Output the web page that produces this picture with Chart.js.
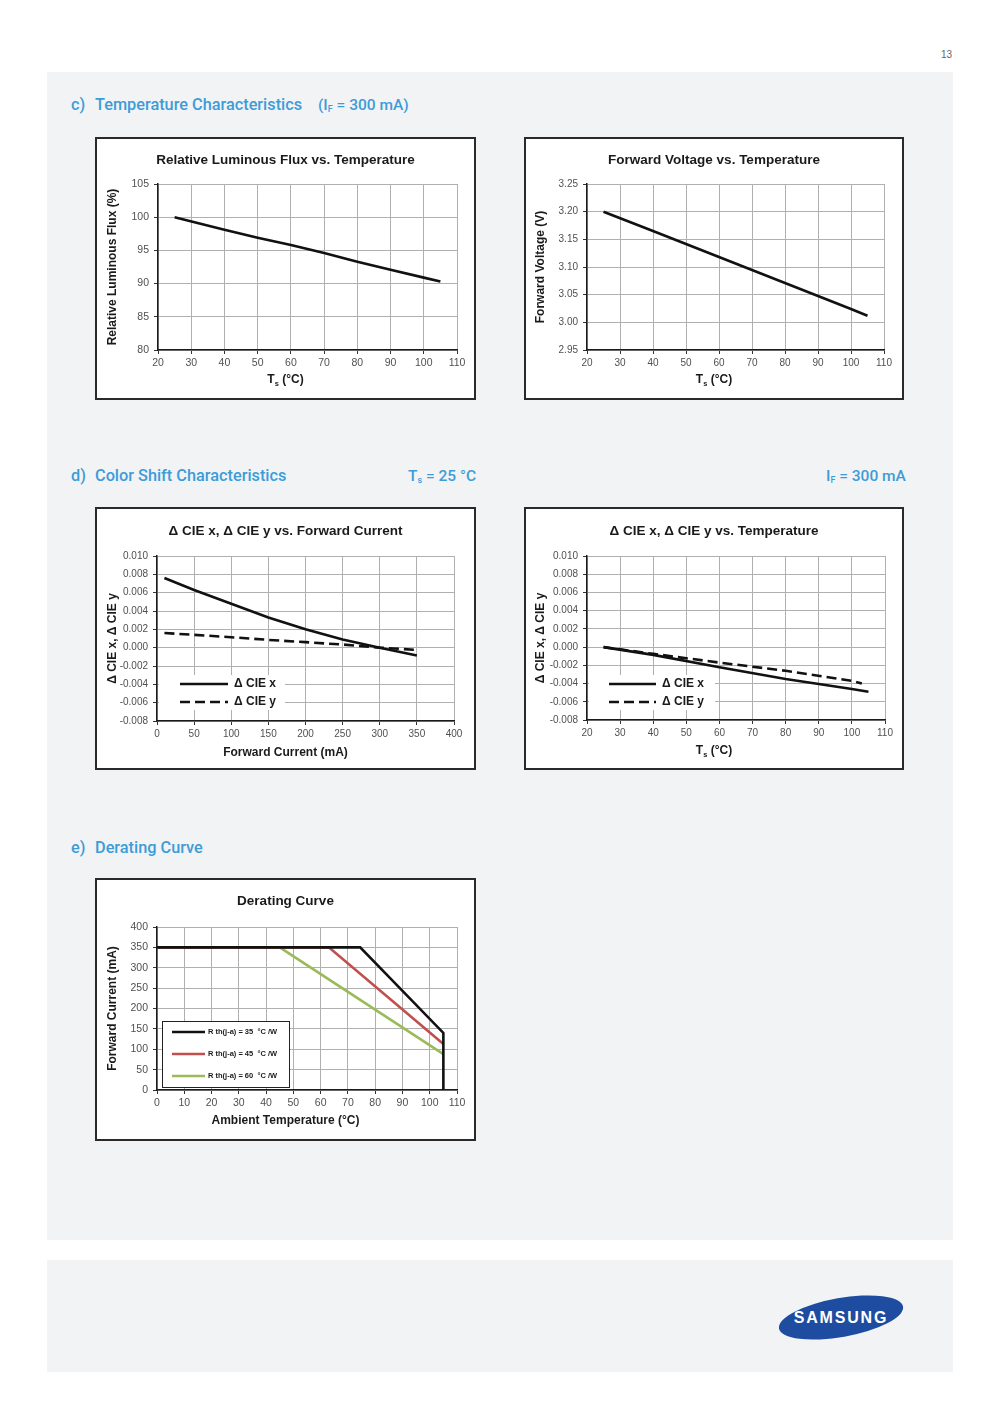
<!DOCTYPE html>
<html>
<head>
<meta charset="utf-8">
<script src="https://cdn.jsdelivr.net/npm/chart.js@4.4.1/dist/chart.umd.min.js"></script>
<style>
  body { margin: 0; width: 1000px; height: 1414px; background: #fff; position: relative; overflow: hidden;
         font-family: "Liberation Sans", Arial, sans-serif; }
  .panel { position: absolute; left: 47px; width: 906px; background: #f2f3f5; }
  .head { position: absolute; font-family: Roboto, "Liberation Sans", sans-serif; font-weight: 500;
          font-size: 16.3px; line-height: 18px; color: #3d9cd8; white-space: nowrap; }
  .head.cond { font-size: 15.5px; }
  .head sub { font-size: 9px; vertical-align: -2px; }
  .box { position: absolute; border: 2px solid #2a2a2a; background: #fff; }
  .box canvas { display: block; }
  .pageno { position: absolute; left: 930px; top: 49px; width: 22px; text-align: right; font-size: 10px; color: #666; }
  .logo { position: absolute; left: 778px; top: 1298px; width: 126px; height: 39px; border-radius: 50%;
          background: #1e4ca0; transform: rotate(-10deg); }
  .logotext { position: absolute; left: 778px; top: 1308px; width: 126px; text-align: center; color: #fff;
              font-weight: bold; font-size: 16px; letter-spacing: 1.8px; line-height: 20px; }
</style>
</head>
<body>
<div class="pageno">13</div>
<div class="panel" style="top:72px;height:1168px"></div>
<div class="panel" style="top:1260px;height:112px"></div>

<div class="head" style="left:71px;top:96px">c)</div>
<div class="head" style="left:95px;top:96px">Temperature Characteristics</div>
<div class="head cond" style="left:318px;top:96px">(I<sub>F</sub> = 300 mA)</div>

<div class="head" style="left:71px;top:467px">d)</div>
<div class="head" style="left:95px;top:467px">Color Shift Characteristics</div>
<div class="head cond" style="left:408px;top:467px">T<sub>s</sub> = 25 °C</div>
<div class="head cond" style="left:826px;top:467px">I<sub>F</sub> = 300 mA</div>

<div class="head" style="left:71px;top:839px">e)</div>
<div class="head" style="left:95px;top:839px">Derating Curve</div>

<div class="logo"></div>
<div class="logotext">SAMSUNG</div>

<script>
Chart.defaults.font.family = '"Liberation Sans", Arial, Helvetica, sans-serif';
Chart.defaults.color = '#4a4a4a';

// c) temperature characteristics (IF = 300 mA)
const tempRange = [20, 110, 10];
const fluxRange = [80, 105, 5];
const fluxTemp = [25, 40, 50, 60, 70, 80, 90, 100, 105];
const fluxRel = [100, 98.1, 96.9, 95.8, 94.6, 93.3, 92.1, 90.9, 90.3];
const vfRange = [2.95, 3.25, 0.05];
const vfTemp = [25, 40, 60, 80, 100, 105];
const vfVolt = [3.200, 3.165, 3.118, 3.071, 3.024, 3.012];

// d) color shift
const shiftRange = [-0.008, 0.010, 0.002];
const currentRange = [0, 400, 50];
const shiftCurrent = [10, 50, 100, 150, 200, 250, 300, 350];
const cieXByCurrent = [0.0076, 0.0063, 0.0048, 0.0033, 0.0020, 0.0009, 0.0000, -0.00085];
const cieYByCurrent = [0.0016, 0.0014, 0.00114, 0.00085, 0.0006, 0.00034, 0.0000, -0.00024];
const shiftTempX = [25, 40, 60, 80, 100, 105];
const cieXByTemp = [0, -0.00085, -0.0022, -0.0035, -0.0046, -0.0049];
const shiftTempY = [25, 40, 60, 80, 100, 103];
const cieYByTemp = [0, -0.00074, -0.0017, -0.0026, -0.0037, -0.0040];
const cieLabels = ['\u0394 CIE x', '\u0394 CIE y'];

// e) derating curve
const ambientRange = [0, 110, 10];
const derateRange = [0, 400, 50];
const derateLabels = ['R th(j-a) = 35  \u00b0C /W', 'R th(j-a) = 45  \u00b0C /W', 'R th(j-a) = 60  \u00b0C /W'];
const derateTemp35 = [0, 74.5, 105, 105];
const derateCur35 = [350, 350, 140, 0];
const derateTemp45 = [0, 63, 105];
const derateCur45 = [350, 350, 113];
const derateTemp60 = [0, 45, 105];
const derateCur60 = [350, 350, 88];

const FONT = '"Liberation Sans", Arial, sans-serif';

// legend drawn inside the plot area, like the excel originals
const innerLegend = {
    id: 'innerLegend',
    beforeDatasetsDraw(chart, args, opts) {
        if (!opts || !opts.rows) return;
        const ctx = chart.ctx;
        const a = chart.chartArea;
        ctx.save();
        ctx.fillStyle = '#fff';
        ctx.fillRect(a.left + opts.box[0], a.top + opts.box[1], opts.box[2], opts.box[3]);
        if (opts.border) {
            ctx.strokeStyle = '#222';
            ctx.lineWidth = 1;
            ctx.strokeRect(a.left + opts.box[0] + 0.5, a.top + opts.box[1] + 0.5, opts.box[2], opts.box[3]);
        }
        chart.data.datasets.forEach(function (ds, i) {
            const y = a.top + opts.rows[i];
            ctx.beginPath();
            ctx.setLineDash(ds.borderDash || []);
            ctx.strokeStyle = ds.borderColor;
            ctx.lineWidth = ds.borderWidth;
            ctx.moveTo(a.left + opts.line[0], y);
            ctx.lineTo(a.left + opts.line[1], y);
            ctx.stroke();
            ctx.setLineDash([]);
            ctx.fillStyle = '#1a1a1a';
            ctx.font = opts.font;
            ctx.textBaseline = 'middle';
            ctx.fillText(ds.label, a.left + opts.textX, y);
        });
        ctx.restore();
    }
};

// chart title and x title are centred on the whole frame, not the plot
function drawSegments(ctx, segs, cx, cy, size) {
    const fonts = segs.map(function (s) { return 'bold ' + (s[1] ? size * 0.62 : size) + 'px ' + FONT; });
    let total = 0;
    segs.forEach(function (s, i) { ctx.font = fonts[i]; total += ctx.measureText(s[0]).width; });
    let x = cx - total / 2;
    segs.forEach(function (s, i) {
        ctx.font = fonts[i];
        ctx.fillText(s[0], x, cy + (s[1] ? size * 0.3 : 0));
        x += ctx.measureText(s[0]).width;
    });
}

const frameTitles = {
    id: 'frameTitles',
    afterDraw(chart, args, opts) {
        if (!opts || !opts.title) return;
        const ctx = chart.ctx;
        ctx.save();
        ctx.fillStyle = '#1a1a1a';
        ctx.textAlign = 'left';
        ctx.textBaseline = 'middle';
        drawSegments(ctx, opts.title, chart.width / 2, opts.titleY, 13.5);
        drawSegments(ctx, opts.xTitle, chart.width / 2, opts.xTitleY, 12);
        ctx.restore();
    }
};

function series(label, xs, ys, color, dash) {
    return {
        label: label,
        data: xs.map(function (x, i) { return { x: x, y: ys[i] }; }),
        borderColor: color,
        borderWidth: 2.6,
        borderDash: dash || [],
        pointRadius: 0,
        fill: false
    };
}

function axis(range, title, size, decimals, horizontal, tickSize) {
    return {
        type: 'linear',
        min: range[0],
        max: range[1],
        border: { color: '#1a1a1a', width: 1.5 },
        grid: { color: '#b0b0b0', lineWidth: 1, tickLength: 4, tickColor: '#333' },
        ticks: {
            stepSize: range[2],
            autoSkip: false,
            maxRotation: 0,
            padding: horizontal ? 3 : 5,
            color: '#505050',
            font: { size: tickSize || 10 },
            callback: function (v) {
                if (Math.abs(v) < 1e-9) v = 0;
                return decimals ? v.toFixed(decimals) : String(Math.round(v));
            }
        },
        title: { display: !horizontal, text: title, color: '#1a1a1a', font: { size: 12, weight: 'bold' }, padding: 0 },
        afterFit: horizontal ? function (s) { s.height = size; } : function (s) { s.width = size; }
    };
}

// frame: box and plot area in page pixels, plus centres of the three titles
function makeChart(frame, cfg) {
    const box = document.createElement('div');
    box.className = 'box';
    const ox = frame.box[0] + 2, oy = frame.box[1] + 2;
    const w = frame.box[2] - frame.box[0] - 4, h = frame.box[3] - frame.box[1] - 4;
    box.style.left = frame.box[0] + 'px';
    box.style.top = frame.box[1] + 'px';
    box.style.width = w + 'px';
    box.style.height = h + 'px';
    const canvas = document.createElement('canvas');
    canvas.width = w;
    canvas.height = h;
    box.appendChild(canvas);
    document.body.appendChild(box);

    const L = frame.area[0] - ox, T = frame.area[1] - oy, R = frame.area[2] - ox, B = frame.area[3] - oy;
    const axisLH = 12 * 1.2;
    const padLeft = frame.yTitleX - ox - axisLH / 2;
    const xHeight = frame.xTitleY - oy + 8 - B;

    return new Chart(canvas, {
        type: 'line',
        data: { datasets: cfg.datasets },
        options: {
            responsive: false,
            animation: false,
            devicePixelRatio: 1,
            layout: { padding: { left: padLeft, right: w - R, top: T, bottom: h - B - xHeight } },
            plugins: {
                legend: { display: false },
                tooltip: { enabled: false },
                title: { display: false },
                innerLegend: cfg.legend || {},
                frameTitles: {
                    title: cfg.title, titleY: frame.titleY - oy,
                    xTitle: cfg.x[1], xTitleY: frame.xTitleY - oy
                }
            },
            elements: { line: { tension: 0, borderCapStyle: 'butt' }, point: { radius: 0 } },
            scales: {
                x: axis(cfg.x[0], '', xHeight, cfg.x[2], true, cfg.tickSize),
                y: axis(cfg.y[0], cfg.y[1], L - padLeft, cfg.y[2], false, cfg.tickSize)
            }
        },
        plugins: [innerLegend, frameTitles]
    });
}

const tsTitle = [['T', 0], ['s', 1], [' (\u00b0C)', 0]];
const shiftTitle = '\u0394 CIE x, \u0394 CIE y';
const bigFont = 'bold 12px ' + FONT;

makeChart({ box: [95, 137, 476, 400], area: [158, 184, 457, 350], titleY: 160, yTitleX: 113, xTitleY: 380 }, {
    title: [['Relative Luminous Flux vs. Temperature', 0]],
    x: [tempRange, tsTitle, 0],
    y: [fluxRange, 'Relative Luminous Flux (%)', 0],
    tickSize: 10.5,
    datasets: [series('flux', fluxTemp, fluxRel, '#111')]
});

makeChart({ box: [524, 137, 904, 400], area: [587, 184, 884, 350], titleY: 160, yTitleX: 541, xTitleY: 380 }, {
    title: [['Forward Voltage vs. Temperature', 0]],
    x: [tempRange, tsTitle, 0],
    y: [vfRange, 'Forward Voltage (V)', 2],
    tickSize: 10,
    datasets: [series('vf', vfTemp, vfVolt, '#111')]
});

makeChart({ box: [95, 507, 476, 770], area: [157, 556, 454, 721], titleY: 531, yTitleX: 113, xTitleY: 753 }, {
    title: [['\u0394 CIE x, \u0394 CIE y vs. Forward Current', 0]],
    x: [currentRange, [['Forward Current (mA)', 0]], 0],
    y: [shiftRange, shiftTitle, 3],
    datasets: [
        series(cieLabels[0], shiftCurrent, cieXByCurrent, '#111'),
        series(cieLabels[1], shiftCurrent, cieYByCurrent, '#111', [10, 5])
    ],
    legend: { box: [2, 119, 126, 35], rows: [128, 146], line: [23, 71], textX: 77, font: bigFont }
});

makeChart({ box: [524, 507, 904, 770], area: [587, 556, 885, 720], titleY: 531, yTitleX: 541, xTitleY: 751 }, {
    title: [['\u0394 CIE x, \u0394 CIE y vs. Temperature', 0]],
    x: [tempRange, tsTitle, 0],
    y: [shiftRange, shiftTitle, 3],
    datasets: [
        series(cieLabels[0], shiftTempX, cieXByTemp, '#111'),
        series(cieLabels[1], shiftTempY, cieYByTemp, '#111', [10, 5])
    ],
    legend: { box: [2, 119, 126, 35], rows: [128, 146], line: [22, 69], textX: 75, font: bigFont }
});

makeChart({ box: [95, 878, 476, 1141], area: [157, 927, 457, 1090], titleY: 901, yTitleX: 113, xTitleY: 1121 }, {
    title: [['Derating Curve', 0]],
    tickSize: 10.5,
    x: [ambientRange, [['Ambient Temperature (\u00b0C)', 0]], 0],
    y: [derateRange, 'Forward Current (mA)', 0],
    datasets: [
        series(derateLabels[0], derateTemp35, derateCur35, '#111'),
        series(derateLabels[1], derateTemp45, derateCur45, '#c0504d'),
        series(derateLabels[2], derateTemp60, derateCur60, '#9bbb59')
    ],
    legend: { box: [5, 94, 127, 66], border: true, rows: [105, 127, 149], line: [15, 48], textX: 51,
              font: 'bold 7.5px ' + FONT }
});
</script>
</body>
</html>
